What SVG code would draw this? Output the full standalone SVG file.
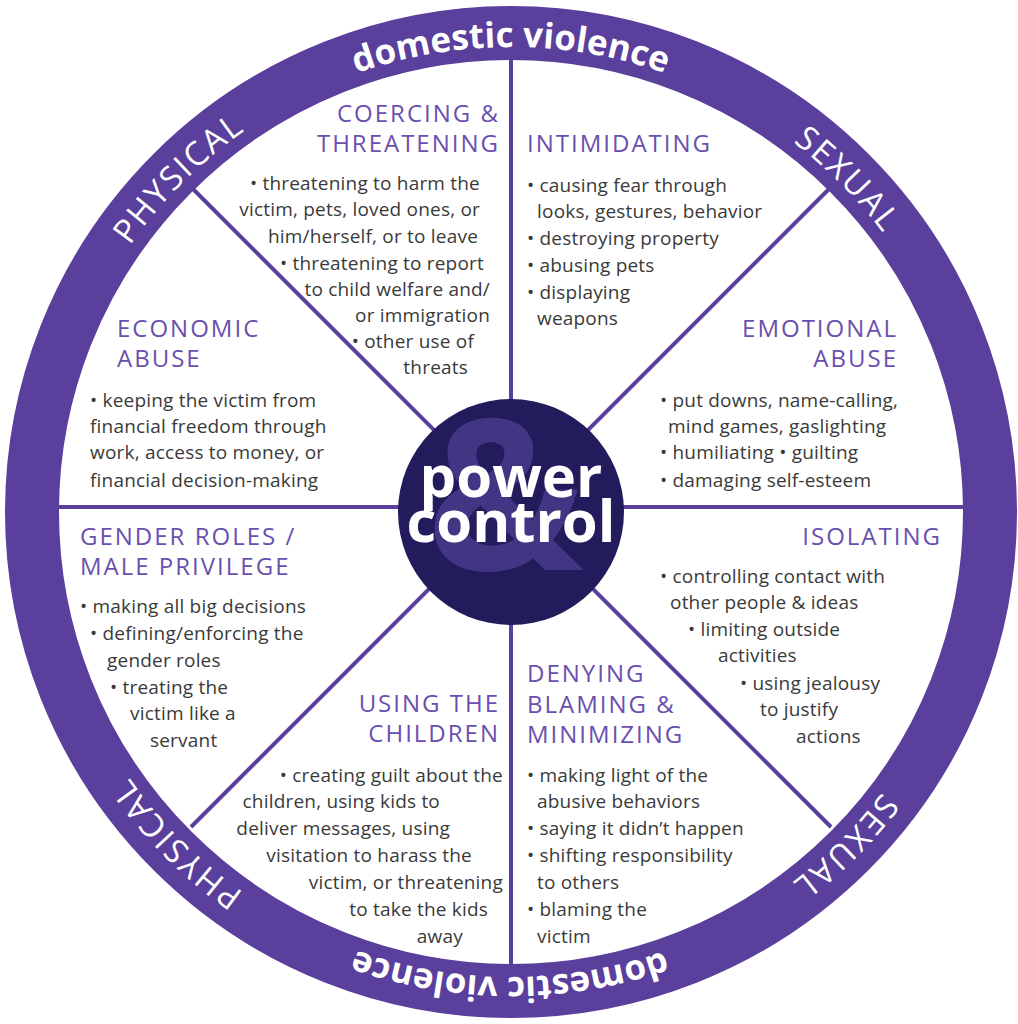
<svg xmlns="http://www.w3.org/2000/svg" xmlns:xlink="http://www.w3.org/1999/xlink" width="1018" height="1024" viewBox="0 0 1018 1024">
<style>
.h{font-family:"Open Sans","Liberation Sans",sans-serif;font-size:24px;fill:#6a4fb0;letter-spacing:2px}
.b{font-family:"Open Sans","Liberation Sans",sans-serif;font-size:19px;fill:#3a3a3a;letter-spacing:0.2px}
.r{text-anchor:end}
.rim{font-family:"Open Sans","Liberation Sans",sans-serif;font-size:35px;fill:#fff;font-weight:bold}
.caps{letter-spacing:2px;font-weight:normal;font-size:33px}
.sp{stroke:#5a3f9c;stroke-width:4}
</style>
<defs>
<path id="rp" d="M 46,512 A 465 465 0 1 1 976,512 A 465 465 0 1 1 46,512"/>
</defs>
<rect width="1018" height="1024" fill="#fff"/>
<g id="rim">
<circle cx="511" cy="512" r="479" fill="none" stroke="#5a3f9c" stroke-width="54"/>
<text class="rim"><textPath xlink:href="#rp" startOffset="730" text-anchor="middle">domestic violence</textPath></text>
<text class="rim caps"><textPath xlink:href="#rp" startOffset="366" text-anchor="middle">PHYSICAL</textPath></text>
<text class="rim caps"><textPath xlink:href="#rp" startOffset="1098" text-anchor="middle">SEXUAL</textPath></text>
<text class="rim caps"><textPath xlink:href="#rp" startOffset="1826" text-anchor="middle">SEXUAL</textPath></text>
<text class="rim"><textPath xlink:href="#rp" startOffset="2192" text-anchor="middle">domestic violence</textPath></text>
<text class="rim caps"><textPath xlink:href="#rp" startOffset="2558" text-anchor="middle">PHYSICAL</textPath></text>
</g>
<g id="connectors">
<line class="sp" x1="511" y1="58" x2="511" y2="966"/>
<line class="sp" x1="58" y1="507" x2="964" y2="507"/>
<line class="sp" x1="188" y1="184" x2="831" y2="827"/>
<line class="sp" x1="834" y1="184" x2="191" y2="827"/>
</g>
<g id="center">
<circle cx="511" cy="512" r="113" fill="#231c5c"/>
<text x="505" y="570" text-anchor="middle" font-family="Open Sans,Liberation Sans,sans-serif" font-size="210" font-weight="bold" fill="#4a3d8f" opacity="0.8">&amp;</text>
<text x="511" y="497" text-anchor="middle" font-family="Open Sans,Liberation Sans,sans-serif" font-size="58" font-weight="bold" fill="#fff">power</text>
<text x="511" y="542" text-anchor="middle" font-family="Open Sans,Liberation Sans,sans-serif" font-size="58" font-weight="bold" fill="#fff">control</text>
</g>
<g id="coercing">
<text class="h r" x="500" y="122">COERCING &amp;</text>
<text class="h r" x="500" y="152">THREATENING</text>
<text class="b r" x="480" y="190">• threatening to harm the</text>
<text class="b r" x="480" y="216">victim, pets, loved ones, or</text>
<text class="b r" x="478" y="243">him/herself, or to leave</text>
<text class="b r" x="484" y="270">• threatening to report</text>
<text class="b r" x="490" y="296">to child welfare and/</text>
<text class="b r" x="490" y="322">or immigration</text>
<text class="b r" x="474" y="348">• other use of</text>
<text class="b r" x="468" y="374">threats</text>
</g>
<g id="intimidating">
<text class="h" x="527" y="152">INTIMIDATING</text>
<text class="b" x="527" y="192">• causing fear through</text>
<text class="b" x="537" y="218">looks, gestures, behavior</text>
<text class="b" x="527" y="245">• destroying property</text>
<text class="b" x="527" y="272">• abusing pets</text>
<text class="b" x="527" y="299">• displaying</text>
<text class="b" x="537" y="325">weapons</text>
</g>
<g id="emotional">
<text class="h r" x="898" y="337">EMOTIONAL</text>
<text class="h r" x="898" y="367">ABUSE</text>
<text class="b" x="660" y="407">• put downs, name-calling,</text>
<text class="b" x="668" y="433">mind games, gaslighting</text>
<text class="b" x="660" y="459">• humiliating • guilting</text>
<text class="b" x="660" y="487">• damaging self-esteem</text>
</g>
<g id="isolating">
<text class="h r" x="942" y="545">ISOLATING</text>
<text class="b" x="660" y="583">• controlling contact with</text>
<text class="b" x="670" y="609">other people &amp; ideas</text>
<text class="b" x="688" y="636">• limiting outside</text>
<text class="b" x="718" y="662">activities</text>
<text class="b" x="740" y="690">• using jealousy</text>
<text class="b" x="760" y="716">to justify</text>
<text class="b" x="796" y="743">actions</text>
</g>
<g id="denying">
<text class="h" x="527" y="682">DENYING</text>
<text class="h" x="527" y="713">BLAMING &amp;</text>
<text class="h" x="527" y="743">MINIMIZING</text>
<text class="b" x="527" y="782">• making light of the</text>
<text class="b" x="537" y="808">abusive behaviors</text>
<text class="b" x="527" y="835">• saying it didn’t happen</text>
<text class="b" x="527" y="862">• shifting responsibility</text>
<text class="b" x="537" y="889">to others</text>
<text class="b" x="527" y="916">• blaming the</text>
<text class="b" x="537" y="943">victim</text>
</g>
<g id="children">
<text class="h r" x="500" y="712">USING THE</text>
<text class="h r" x="500" y="742">CHILDREN</text>
<text class="b r" x="503" y="782">• creating guilt about the</text>
<text class="b r" x="440" y="808">children, using kids to</text>
<text class="b r" x="450" y="835">deliver messages, using</text>
<text class="b r" x="472" y="862">visitation to harass the</text>
<text class="b r" x="503" y="889">victim, or threatening</text>
<text class="b r" x="488" y="916">to take the kids</text>
<text class="b r" x="463" y="943">away</text>
</g>
<g id="gender">
<text class="h" x="80" y="545">GENDER ROLES /</text>
<text class="h" x="80" y="575">MALE PRIVILEGE</text>
<text class="b" x="80" y="613">• making all big decisions</text>
<text class="b" x="90" y="640">• defining/enforcing the</text>
<text class="b" x="107" y="667">gender roles</text>
<text class="b" x="110" y="694">• treating the</text>
<text class="b" x="130" y="720">victim like a</text>
<text class="b" x="150" y="747">servant</text>
</g>
<g id="economic">
<text class="h" x="117" y="337">ECONOMIC</text>
<text class="h" x="117" y="367">ABUSE</text>
<text class="b" x="90" y="407">• keeping the victim from</text>
<text class="b" x="90" y="433">financial freedom through</text>
<text class="b" x="90" y="459">work, access to money, or</text>
<text class="b" x="90" y="487">financial decision-making</text>
</g>
</svg>
